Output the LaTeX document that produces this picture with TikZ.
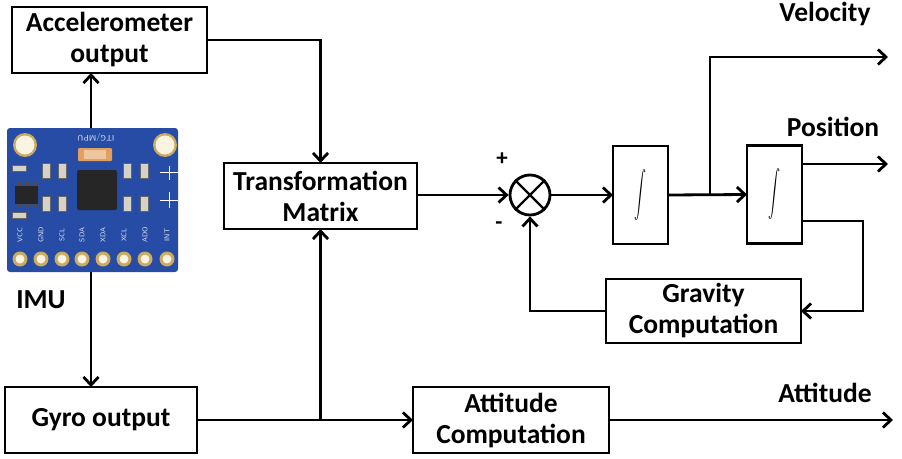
\documentclass[tikz,border=0pt]{standalone}
\usepackage{fontspec}
\usepackage{graphicx}
\setmainfont{Carlito}
\usetikzlibrary{arrows.meta}
\definecolor{boardblue}{RGB}{38,76,165}
\definecolor{padgold}{RGB}{205,170,95}
\definecolor{padcream}{RGB}{250,244,225}
\definecolor{resorange}{RGB}{225,160,95}
\definecolor{smdwhite}{RGB}{215,210,200}
\begin{document}
\begin{tikzpicture}[x=1pt,y=-1pt,line width=2.8pt,
  box/.style={draw,rectangle,inner sep=0pt,outer sep=0pt,align=center,font=\fontsize{27.5}{31}\selectfont\bfseries},
  intbox/.style={box,minimum width=55,minimum height=98,font=\normalsize},
  arr/.style={-{Straight Barb[length=8pt,width=15pt]}},
  lbl/.style={inner sep=0pt,font=\fontsize{27.5}{31}\selectfont\bfseries},
  sgn/.style={inner sep=0pt,font=\fontsize{23}{23}\selectfont\bfseries},
  pinlbl/.style={rotate=90,inner sep=0pt,text=white!85!boardblue,font=\sffamily\fontsize{7}{7}\selectfont},
  smd/.style={fill=smdwhite,draw=black!60,line width=0.6pt}]
\useasboundingbox (0,0) rectangle (902,458);

% ---------- IMU board ----------
\node[fill=boardblue,rounded corners=3pt,minimum width=171,minimum height=144,inner sep=0pt,outer sep=0pt] (imu) at (92.5,200) {};
\fill[padgold] (25,145) circle (12);
\fill[padcream] (25,145) circle (9.5);
\fill[padgold] (165,145) circle (12);
\fill[padcream] (165,145) circle (9.5);
\node[inner sep=0pt,rotate=180,text=white!85!boardblue,font=\sffamily\fontsize{8}{8}\selectfont] (silk) at (96,137) {ITG/MPU};
\fill[resorange,rounded corners=1pt] (78,148) rectangle (112,161);
\fill[resorange!60!white] (84,150) rectangle (106,159);
\fill[black!85,rounded corners=2pt] (77,170) rectangle (117,210);
\fill[black!85] (15,186) rectangle (38,204);
\foreach \x in {18,26,34} {\fill[black!70] (\x,182) rectangle ++(3,4); \fill[black!70] (\x,204) rectangle ++(3,4);}
\foreach \x in {42,58,123,140} {
  \draw[smd] (\x,163) rectangle ++(8,15);
  \draw[smd] (\x,196) rectangle ++(8,15);}
\draw[smd] (12,165) rectangle ++(14,6);
\draw[smd] (12,212) rectangle ++(14,6);
\draw[white,line width=0.9pt] (160,172) -- (178,172) (169,166) -- (169,180);
\draw[white,line width=0.9pt] (160,200) -- (178,200) (169,192) -- (169,208);
\foreach \x/\t [count=\i] in {20/VCC,41/GND,62/SCL,82/SDA,103/XDA,124/XCL,145/ADO,167/INT} {
  \node[pinlbl] (p\i) at (\x,235) {\t};
  \fill[padgold] (\x,259) circle (7.5);
  \fill[padcream] (\x,259) circle (4.5);}
\node[lbl] (imulbl) at (41,300) {IMU};

% ---------- boxes ----------
\node[box,minimum width=195,minimum height=66] (acc) at (109.5,40) {Accelerometer\\output};
\node[box,minimum width=193,minimum height=66] (tm) at (320.5,196) {Transformation\\Matrix};
\node[box,minimum width=192,minimum height=66] (gyro) at (101,420) {Gyro output};
\node[box,minimum width=196,minimum height=66] (att) at (511,420) {Attitude\\Computation};
\node[box,minimum width=195,minimum height=64] (grav) at (703.5,311) {Gravity\\Computation};
\node[intbox] (int1) at (640.5,195) {\scalebox{1.2}[2.3]{$\displaystyle\int$}};
\node[intbox] (int2) at (774.5,194.5) {\scalebox{1.2}[2.3]{$\displaystyle\int$}};
\node[draw,circle,minimum size=40,inner sep=0pt] (sum) at (530,195) {};
\draw[line width=2.2pt] (sum.north west) -- (sum.south east) (sum.north east) -- (sum.south west);

% ---------- labels ----------
\node[lbl] (vel) at (825,14) {Velocity};
\node[lbl] (pos) at (833,127) {Position};
\node[lbl] (attl) at (825,393) {Attitude};
\node[sgn] (plus) at (502,159) {+};
\node[sgn] (minus) at (499,226) {-};

% ---------- coordinates ----------
\coordinate (imux) at (91,0);
\coordinate (branchv) at (710,57);
\coordinate (velend) at (888,57);
\coordinate (posend) at (888,164);
\coordinate (fb) at (863,221);
\coordinate (attend) at (893,420);

% ---------- connectors ----------
\draw[arr] (imu.north -| imux) -- (acc.south -| imux);
\draw[arr] (imu.south -| imux) -- (gyro.north -| imux);
\draw[arr] (acc.east) -| (tm.north);
\draw[arr] (gyro.east) -- (att.west);
\draw[arr] (gyro.east -| tm.south) -- (tm.south);
\draw[arr] (tm.east |- sum.west) -- (sum.west);
\draw[arr] (sum.east) -- (int1.west);
\draw[arr] (int1.east) -- (int2.west);
\draw[arr] (int1.east -| branchv) -- (branchv) -- (velend);
\draw[arr] (int2.east |- posend) -- (posend);
\draw[arr] (int2.east |- fb) -- (fb) |- (grav.east);
\draw[arr] (grav.west) -| (sum.south);
\draw[arr] (att.east |- attend) -- (attend);
\end{tikzpicture}
\end{document}
